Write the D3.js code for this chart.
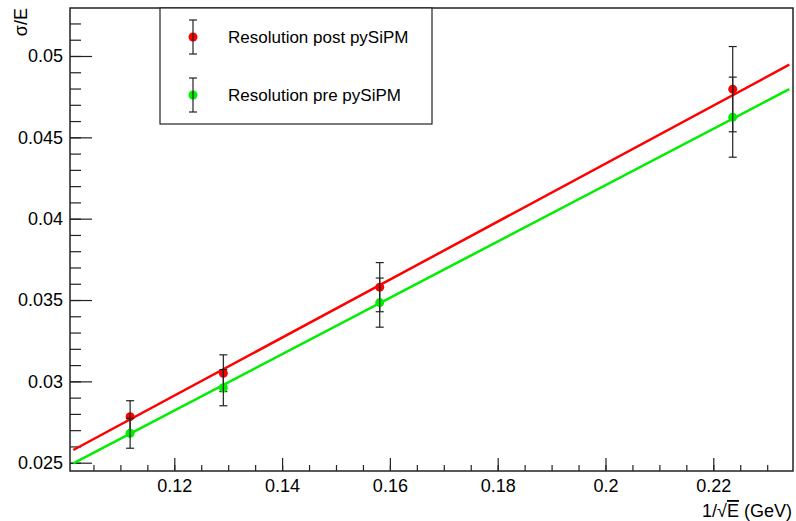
<!DOCTYPE html>
<html>
<head>
<meta charset="utf-8">
<script src="https://cdn.jsdelivr.net/npm/d3@7"></script>
<style>
  body { margin: 0; background: #fff; }
  text { font-family: "Liberation Sans", Arial, sans-serif; fill: #000; }
</style>
</head>
<body>
<svg id="chart" width="796" height="521"></svg>
<script>
// data (x = 1/sqrt(E))
var energies = [80, 60, 40, 20];
var postVals = [0.02783, 0.03050, 0.03579, 0.04796];
var postErrs = [0.00098, 0.00113, 0.00151, 0.00262];
var preVals = [0.02681, 0.02961, 0.03484, 0.04624];
var preErrs = [0.00092, 0.00111, 0.00151, 0.00246];
// linear fits: intercept, slope
var postFit = [0.007725, 0.1783];
var preFit = [0.00742, 0.1732];
var fitRange = [0.10126, 0.2341];
var legendLabels = ["Resolution post pySiPM", "Resolution pre pySiPM"];
var xTicks = [0.12, 0.14, 0.16, 0.18, 0.2, 0.22];
var yTicks = [0.025, 0.03, 0.035, 0.04, 0.045, 0.05];

var svg = d3.select("#chart");
// frame edges (note: "top" is reserved on window)
var padL = 70, padR = 793, padT = 8, padB = 471;

var x = d3.scaleLinear().domain([0.10065, 0.23479]).range([padL, padR]);
var y = d3.scaleLinear().domain([0.02449, 0.05295]).range([padB, padT]);

var axisColor = "#222";

function fmt(d) { return String(+d.toFixed(4)); }

// minor ticks
var xMinor = d3.range(0.105, 0.2349, 0.005).map(function(d) { return +d.toFixed(3); });
var yMinor = d3.range(0.025, 0.0529, 0.001).map(function(d) { return +d.toFixed(3); });

svg.append("g")
  .attr("transform", "translate(0," + padB + ")")
  .call(d3.axisBottom(x).tickValues(xMinor).tickSize(-6).tickFormat(""));
svg.append("g")
  .attr("transform", "translate(" + padL + ",0)")
  .call(d3.axisLeft(y).tickValues(yMinor).tickSize(-11).tickFormat(""));

// major ticks
svg.append("g")
  .attr("transform", "translate(0," + padB + ")")
  .call(d3.axisBottom(x).tickValues(xTicks).tickSize(-13).tickPadding(8).tickFormat(fmt));
svg.append("g")
  .attr("transform", "translate(" + padL + ",0)")
  .call(d3.axisLeft(y).tickValues(yTicks).tickSize(-22).tickPadding(7).tickFormat(fmt));

svg.selectAll(".domain").remove();
svg.selectAll(".tick line").attr("stroke", axisColor).attr("stroke-width", 1.2);
svg.selectAll(".tick text").attr("font-size", 18).attr("fill", "#000")
  .style("font-family", "Liberation Sans, Arial, sans-serif");

// frame
svg.append("rect")
  .attr("x", padL).attr("y", padT)
  .attr("width", padR - padL).attr("height", padB - padT)
  .attr("fill", "none").attr("stroke", axisColor).attr("stroke-width", 1.5);

// axis titles
var xt = svg.append("text")
  .attr("x", 792).attr("y", 517)
  .attr("text-anchor", "end").attr("font-size", 18);
xt.append("tspan").text("1/√");
xt.append("tspan").style("text-decoration", "overline").text("E");
xt.append("tspan").text(" (GeV)");

svg.append("text")
  .attr("transform", "translate(27,8) rotate(-90)")
  .attr("text-anchor", "end").attr("font-size", 18)
  .text("σ/E");

// fit lines
function drawFit(fit, color) {
  var line = d3.line()
    .x(function(d) { return x(d); })
    .y(function(d) { return y(fit[0] + fit[1] * d); });
  svg.append("path")
    .datum(fitRange)
    .attr("d", line)
    .attr("fill", "none")
    .attr("stroke", color)
    .attr("stroke-width", 2.5);
}
drawFit(postFit, "#ff0000");
drawFit(preFit, "#00ee00");

// points + error bars
function drawSeries(vals, errs, color) {
  var pts = vals.map(function(v, i) {
    return { x: 1 / Math.sqrt(energies[i]), y: v, e: errs[i] };
  });
  var g = svg.append("g");
  g.selectAll("circle")
    .data(pts)
    .enter().append("circle")
    .attr("cx", function(d) { return x(d.x); })
    .attr("cy", function(d) { return y(d.y); })
    .attr("r", 4.5)
    .attr("fill", color);
  var bars = g.selectAll("g.err")
    .data(pts)
    .enter().append("g").attr("class", "err")
    .attr("stroke", "#222").attr("stroke-width", 1.2);
  bars.append("line")
    .attr("x1", function(d) { return x(d.x); })
    .attr("x2", function(d) { return x(d.x); })
    .attr("y1", function(d) { return y(d.y + d.e); })
    .attr("y2", function(d) { return y(d.y - d.e); });
  [1, -1].forEach(function(s) {
    bars.append("line")
      .attr("x1", function(d) { return x(d.x) - 4; })
      .attr("x2", function(d) { return x(d.x) + 4; })
      .attr("y1", function(d) { return y(d.y + s * d.e); })
      .attr("y2", function(d) { return y(d.y + s * d.e); });
  });
}
drawSeries(postVals, postErrs, "#ff0000");
drawSeries(preVals, preErrs, "#00ee00");

// legend
var legend = svg.append("g");
legend.append("rect")
  .attr("x", 160).attr("y", padT)
  .attr("width", 272).attr("height", 116)
  .attr("fill", "#fff").attr("stroke", axisColor).attr("stroke-width", 1.2);
var legColors = ["#ff0000", "#00ee00"];
legendLabels.forEach(function(lbl, i) {
  var cy = 37 + i * 58;
  var item = legend.append("g");
  item.append("circle").attr("cx", 193).attr("cy", cy).attr("r", 4.5).attr("fill", legColors[i]);
  item.append("line").attr("x1", 193).attr("x2", 193).attr("y1", cy - 17).attr("y2", cy + 17)
    .attr("stroke", "#222").attr("stroke-width", 1.2);
  [-17, 17].forEach(function(o) {
    item.append("line").attr("x1", 189).attr("x2", 197).attr("y1", cy + o).attr("y2", cy + o)
      .attr("stroke", "#222").attr("stroke-width", 1.2);
  });
  item.append("text").attr("x", 228).attr("y", cy + 6)
    .attr("font-size", 17).text(lbl);
});
</script>
</body>
</html>
